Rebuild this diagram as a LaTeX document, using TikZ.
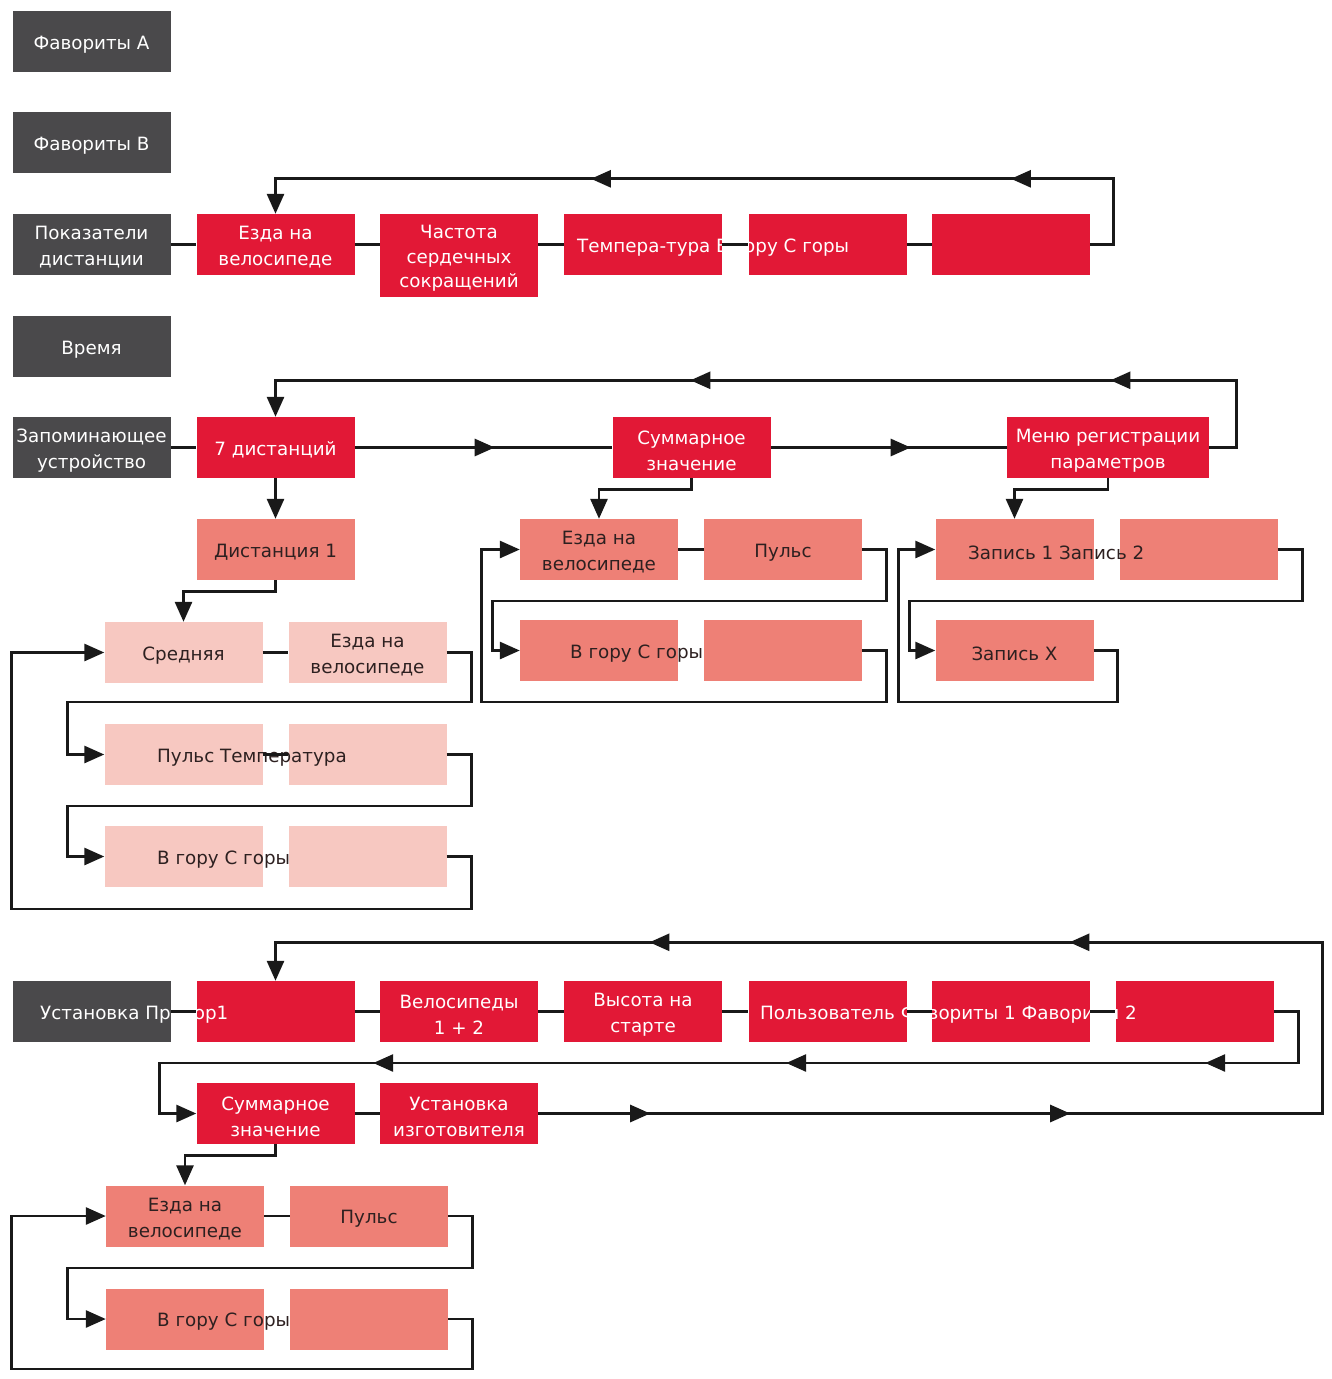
\documentclass[tikz,border=0pt]{standalone}
\usepackage{fontspec}
\setmainfont{DejaVu Sans}
\usetikzlibrary{arrows.meta,decorations.markings}

\definecolor{boxgray}{RGB}{74,73,75}
\definecolor{boxred}{RGB}{226,24,54}
\definecolor{boxsalmon}{RGB}{238,128,118}
\definecolor{boxpink}{RGB}{247,200,193}
\definecolor{ink}{RGB}{45,32,32}
\definecolor{wirecol}{RGB}{25,25,25}

% tall strut at the start of a label: sets the text a little lower in its box
\newcommand\hstrut{\rule{0pt}{19.5pt}}

\tikzset{
  bigtri/.tip={Triangle[length=20pt,width=17pt]},
  boxfont/.style={font=\fontsize{18.3}{26}\selectfont,
    execute at begin node={\hstrut}},
  basebox/.style={minimum width=158pt,minimum height=61pt,inner sep=0pt,
    align=center,boxfont},
  greybox/.style={basebox,fill=boxgray,text=white},
  redbox/.style={basebox,fill=boxred,text=white},
  salbox/.style={basebox,fill=boxsalmon,text=ink},
  pinkbox/.style={basebox,fill=boxpink,text=ink},
  spill/.style={anchor=west,inner sep=0pt,boxfont},
  wire/.style={draw=wirecol,line width=2.8pt},
  midtip/.style={postaction={decorate,decoration={markings,
    mark=at position #1 with {\arrow[wirecol]{bigtri}}}}},
}

\begin{document}
\begin{tikzpicture}[x=1pt,y=-1pt]
\fill[white] (0,0) rectangle (1331,1379);
\useasboundingbox (0,0) rectangle (1331,1379);

% left-hand menu column
\node[greybox] (favA)  at (91.5,41.5)  {Фавориты А};
\node[greybox] (favB)  at (91.5,142.5) {Фавориты В};
\node[greybox] (pokaz) at (91.5,244.5) {\hstrut Показатели\\дистанции};
\node[greybox] (vremya) at (91.5,346.5) {Время};
\node[greybox] (zapom) at (91.5,447.5) {\hstrut Запоминающее\\устройство};
\node[greybox] (ustan) at (91.5,1011.5) {};

% distance indicators row
\node[redbox] (r1) at (275.5,244.5) {\hstrut Езда на\\велосипеде};
\node[redbox,minimum height=83pt,font=\fontsize{18.3}{24.5}\selectfont] (r2) at (459,255.5)
  {\hstrut Частота\\сердечных\\сокращений};
\node[redbox] (r3) at (643,244.5) {};
\node[redbox] (r4) at (827.5,244.5) {};
\node[redbox] (r5) at (1011,244.5) {};
\node[spill,text=white] (r3t) at (577,244.5) {Темпера-тура В гору С горы};

% memory row
\node[redbox] (d7) at (275.5,447.5) {7 дистанций};
\node[redbox] (sum) at (691.5,447.5) {\hstrut Суммарное\\значение};
\node[redbox,minimum width=202pt] (menu) at (1108,447.5) {\hstrut Меню регистрации\\параметров};
\node[salbox] (dist1) at (275.5,549.5) {Дистанция 1};

% distance detail
\node[pinkbox] (pa1) at (183.5,652.5) {Средняя};
\node[pinkbox] (pa2) at (367.5,652.5) {\hstrut Езда на\\велосипеде};
\node[pinkbox] (pb1) at (183.5,754.5) {};
\node[pinkbox] (pb2) at (367.5,754.5) {};
\node[pinkbox] (pc1) at (183.5,856.5) {};
\node[pinkbox] (pc2) at (367.5,856.5) {};
\node[spill,text=ink] (pbt) at (157,754.5) {Пульс Температура};
\node[spill,text=ink] (pct) at (157,856.5) {В гору С горы};

% totals detail
\node[salbox] (ma1) at (599,549.5) {\hstrut Езда на\\велосипеде};
\node[salbox] (ma2) at (783,549.5) {Пульс};
\node[salbox] (mb1) at (599,650.5) {};
\node[salbox] (mb2) at (783,650.5) {};
\node[spill,text=ink] (mbt) at (570,650.5) {В гору С горы};

% records detail
\node[salbox] (ra1) at (1014.5,549.5) {};
\node[salbox] (ra2) at (1198.5,549.5) {};
\node[salbox] (rb1) at (1014.5,650.5) {Запись X};
\node[spill,text=ink] (rat) at (968,549.5) {Запись 1 Запись 2};

% device settings
\node[redbox] (b1) at (275.5,1011.5) {};
\node[redbox] (b2) at (459,1011.5) {\hstrut Велосипеды\\1 + 2};
\node[redbox] (b3) at (643,1011.5) {\hstrut Высота на\\старте};
\node[redbox] (b4) at (827.5,1011.5) {};
\node[redbox] (b5) at (1011,1011.5) {};
\node[redbox] (b6) at (1194.5,1011.5) {};
\node[spill,text=white] (ust) at (40,1011.5) {Установка Прибор1};
\node[spill,text=white] (b4t) at (760,1011.5) {Пользователь Фавориты 1 Фавориты 2};
\node[redbox] (bs) at (275.5,1113.5) {\hstrut Суммарное\\значение};
\node[redbox] (bu) at (459,1113.5) {\hstrut Установка\\изготовителя};
\node[salbox] (bp1) at (185,1216) {\hstrut Езда на\\велосипеде};
\node[salbox] (bp2) at (369,1216) {Пульс};
\node[salbox] (bq1) at (185,1319) {};
\node[salbox] (bq2) at (369,1319) {};
\node[spill,text=ink] (bqt) at (157,1319) {В гору С горы};

% ---- connectors: distance indicators
\draw[wire] (pokaz.east) -- (r1.west);
\draw[wire] (r1.east) -- (r1.east -| r2.west);
\draw[wire] (r3.west -| r2.east) -- (r3.west);
\draw[wire] (r3.east) -- (r4.west);
\draw[wire] (r4.east) -- (r5.west);
\draw[wire,-bigtri,midtip=191pt,midtip=611pt]
  (r5.east) -- ++(23,0) |- ([yshift=35pt]r1.north) -- (r1.north);

% ---- connectors: memory
\draw[wire] (zapom.east) -- (d7.west);
\draw[wire,midtip=140pt] (d7.east) -- (sum.west);
\draw[wire,midtip=140pt] (sum.east) -- (menu.west);
\draw[wire,-bigtri,midtip=220pt,midtip=640pt]
  (menu.east) -- ++(27,0) |- ([yshift=36.5pt]d7.north) -- (d7.north);
\draw[wire,-bigtri] (d7.south) -- (dist1.north);
\draw[wire,-bigtri] (dist1.south) -- ++(0,11) -| (pa1.north);

\draw[wire] (pa1.east) -- (pa2.west);
\draw[wire,-bigtri] (pa2.east) -- ++(25,0) -- ++(0,49.5) -| ([xshift=-37pt]pb1.west) -- (pb1.west);
\draw[wire] (pb1.east) -- (pb2.west);
\draw[wire,-bigtri] (pb2.east) -- ++(25,0) -- ++(0,51.5) -| ([xshift=-37pt]pc1.west) -- (pc1.west);
\draw[wire,-bigtri] (pc2.east) -- ++(25,0) -- ++(0,52.5) -| ([xshift=-93pt]pa1.west) -- (pa1.west);

\draw[wire,-bigtri] (sum.south) -- ++(0,11) -| (ma1.north);
\draw[wire] (ma1.east) -- (ma2.west);
\draw[wire,-bigtri] (ma2.east) -- ++(24,0) -- ++(0,51.5) -| ([xshift=-27pt]mb1.west) -- (mb1.west);
\draw[wire,-bigtri] (mb2.east) -- ++(24,0) -- ++(0,51.5) -| ([xshift=-38pt]ma1.west) -- (ma1.west);

\draw[wire,-bigtri] (menu.south) -- ++(0,11) -| (ra1.north);
\draw[wire,-bigtri] (ra2.east) -- ++(25,0) -- ++(0,51.5) -| ([xshift=-26pt]rb1.west) -- (rb1.west);
\draw[wire,-bigtri] (rb1.east) -- ++(24,0) -- ++(0,51.5) -| ([xshift=-37pt]ra1.west) -- (ra1.west);

% ---- connectors: device settings
\draw[wire] (ustan.east) -- (b1.west);
\draw[wire] (b1.east) -- (b2.west);
\draw[wire] (b2.east) -- (b3.west);
\draw[wire] (b3.east) -- (b4.west);
\draw[wire] (b4.east) -- (b5.west);
\draw[wire] (b5.east) -- (b6.west);
\draw[wire,-bigtri,midtip=112pt,midtip=532pt,midtip=1208pt,midtip=1628pt]
  (bu.east) -- ++(784,0) |- ([yshift=38.5pt]b1.north) -- (b1.north);
\draw[wire,-bigtri,midtip=170pt,midtip=589pt,midtip=1002pt]
  (b6.east) -- ++(25,0) -- ++(0,51.5) -| ([xshift=-37pt]bs.west) -- (bs.west);
\draw[wire] (bs.east) -- (bu.west);
\draw[wire,-bigtri] (bs.south) -- ++(0,11) -| (bp1.north);
\draw[wire] (bp1.east) -- (bp2.west);
\draw[wire,-bigtri] (bp2.east) -- ++(24,0) -- ++(0,52) -| ([xshift=-38pt]bq1.west) -- (bq1.west);
\draw[wire,-bigtri] (bq2.east) -- ++(24,0) -- ++(0,50) -| ([xshift=-94pt]bp1.west) -- (bp1.west);
\end{tikzpicture}
\end{document}
